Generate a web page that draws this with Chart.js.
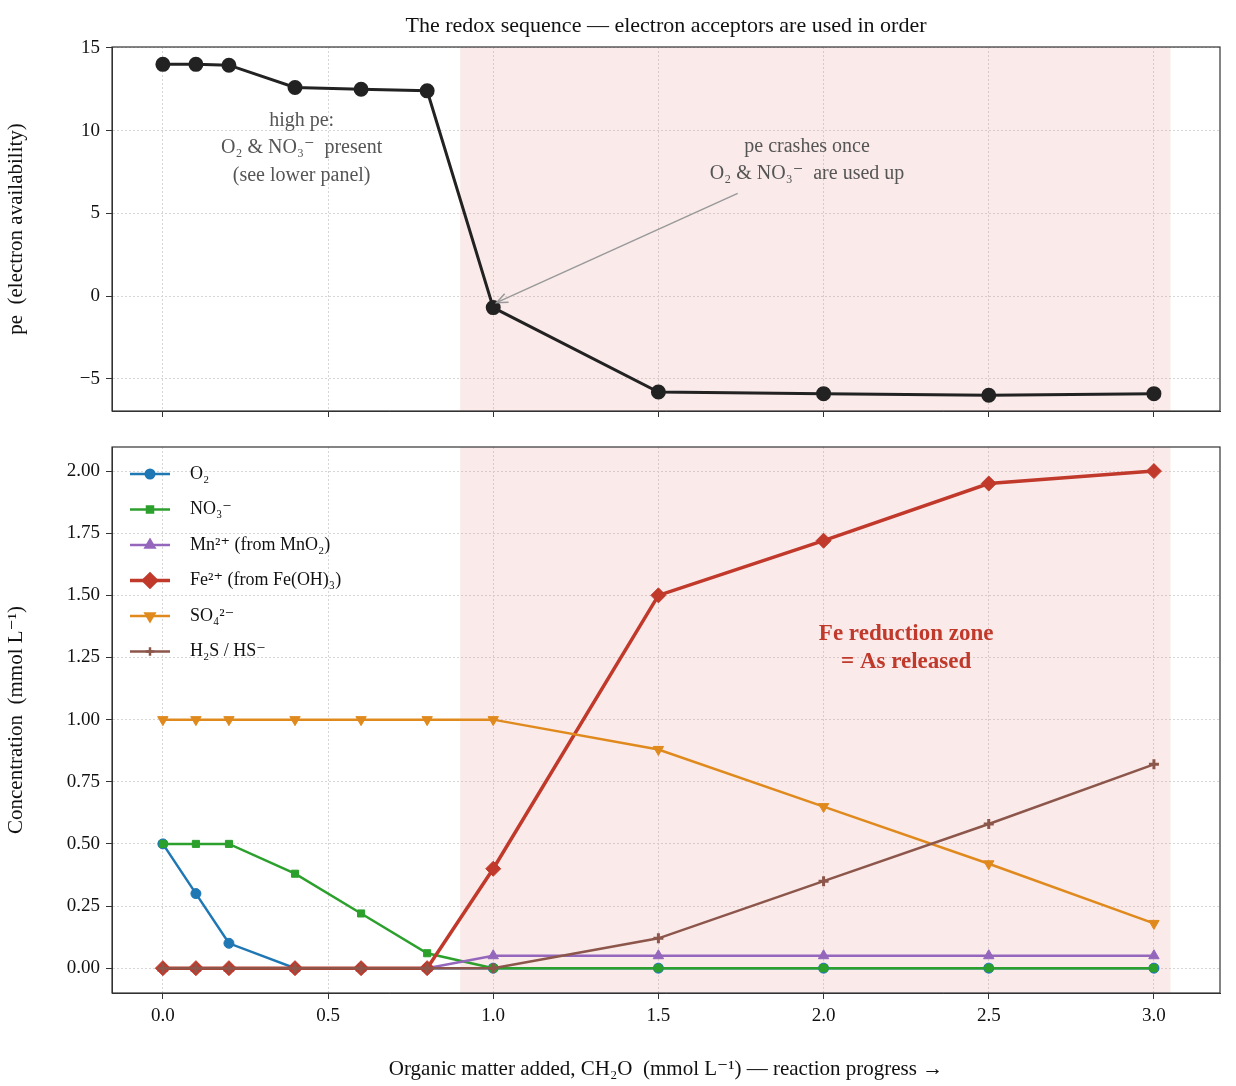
<!DOCTYPE html>
<html>
<head>
<meta charset="utf-8">
<script src="https://cdn.jsdelivr.net/npm/chart.js@4"></script>
<style>
  body { margin: 0; background: #fff; }
  .box { position: absolute; left: 0; width: 1236px; }
</style>
</head>
<body>
<div class="box" style="top:0;height:440px"><canvas id="peChart" width="1236" height="440"></canvas></div>
<div class="box" style="top:420px;height:666px"><canvas id="concChart" width="1236" height="666"></canvas></div>
<script>
const progress = [0, 0.1, 0.2, 0.4, 0.6, 0.8, 1.0, 1.5, 2.0, 2.5, 3.0];
const pe = [14.0, 14.0, 13.95, 12.6, 12.5, 12.4, -0.7, -5.8, -5.9, -6.0, -5.9];
const o2 = [0.5, 0.3, 0.1, 0, 0, 0, 0, 0, 0, 0, 0];
const no3 = [0.5, 0.5, 0.5, 0.38, 0.22, 0.06, 0, 0, 0, 0, 0];
const mn = [0, 0, 0, 0, 0, 0, 0.05, 0.05, 0.05, 0.05, 0.05];
const fe = [0, 0, 0, 0, 0, 0, 0.4, 1.5, 1.72, 1.95, 2.0];
const so4 = [1, 1, 1, 1, 1, 1, 1, 0.88, 0.65, 0.42, 0.18];
const h2s = [0, 0, 0, 0, 0, 0, 0, 0.12, 0.35, 0.58, 0.82];
const xTicks = [0, 0.5, 1.0, 1.5, 2.0, 2.5, 3.0];
const peTicks = [-5, 0, 5, 10, 15];
const concTicks = [0, 0.25, 0.5, 0.75, 1.0, 1.25, 1.5, 1.75, 2.0];
const zone = [0.9, 3.05];

const FONT = "'Liberation Serif', 'DejaVu Serif', serif";
Chart.defaults.font.family = FONT;
Chart.defaults.color = "#111";

const pts = arr => arr.map((v, i) => ({ x: progress[i], y: v }));

function xScale(showLabels, title) {
  return {
    type: "linear", min: -0.154, max: 3.2,
    afterBuildTicks: s => { s.ticks = xTicks.map(v => ({ value: v })); },
    ticks: { display: showLabels, font: { size: 19 }, padding: 6,
      callback: v => v.toFixed(1) },
    grid: { color: "#d6d6d6", tickColor: "#333", tickLength: 6 },
    border: { display: true, color: "#333", dash: [2, 2] },
    title: title ? { display: true, text: title, font: { size: 21 }, padding: { top: 2 } } : { display: false },
    afterFit: s => { s.height = showLabels ? 93 : 29; }
  };
}

function yScale(min, max, list, fmt, title) {
  return {
    min: min, max: max,
    afterBuildTicks: s => { s.ticks = list.map(v => ({ value: v })); },
    ticks: { font: { size: 19 }, padding: 6, callback: fmt },
    grid: { color: "#d6d6d6", tickColor: "#333", tickLength: 6 },
    border: { display: true, color: "#333", dash: [2, 2] },
    title: { display: true, text: title, font: { size: 21 }, padding: { bottom: 4 } },
    afterFit: s => { s.width = 112; }
  };
}

// shaded zone behind data, frame and text on top
const framePlugin = {
  id: "frame",
  beforeDatasetsDraw(chart) {
    const { ctx, chartArea: a, scales: { x } } = chart;
    ctx.save();
    ctx.fillStyle = "rgba(230, 150, 150, 0.2)";
    ctx.fillRect(x.getPixelForValue(zone[0]), a.top, x.getPixelForValue(zone[1]) - x.getPixelForValue(zone[0]), a.bottom - a.top);
    ctx.restore();
  },
  afterDraw(chart) {
    const { ctx, chartArea: a } = chart;
    const opts = chart.options.plugins.frame;
    ctx.save();
    ctx.strokeStyle = "#333";
    ctx.lineWidth = 1.2;
    ctx.strokeRect(a.left, a.top, a.right - a.left, a.bottom - a.top);
    const { x, y } = chart.scales;
    (opts.notes || []).forEach(n => {
      ctx.fillStyle = n.color;
      ctx.font = (n.bold ? "bold " : "") + n.size + "px " + FONT;
      ctx.textAlign = "center";
      ctx.textBaseline = "middle";
      n.lines.forEach((t, i) => ctx.fillText(t, x.getPixelForValue(n.x), y.getPixelForValue(n.y) + i * n.gap));
    });
    const arr = opts.arrow;
    if (arr) {
      const x1 = x.getPixelForValue(arr[0]), y1 = y.getPixelForValue(arr[1]);
      const x2 = x.getPixelForValue(arr[2]), y2 = y.getPixelForValue(arr[3]);
      ctx.strokeStyle = "#999";
      ctx.lineWidth = 1.5;
      ctx.beginPath(); ctx.moveTo(x1, y1); ctx.lineTo(x2, y2); ctx.stroke();
      const ang = Math.atan2(y2 - y1, x2 - x1);
      ctx.beginPath();
      ctx.moveTo(x2 - 12 * Math.cos(ang - 0.4), y2 - 12 * Math.sin(ang - 0.4));
      ctx.lineTo(x2, y2);
      ctx.lineTo(x2 - 12 * Math.cos(ang + 0.4), y2 - 12 * Math.sin(ang + 0.4));
      ctx.stroke();
    }
    if (opts.title) {
      ctx.fillStyle = "#111";
      ctx.font = "22px " + FONT;
      ctx.textAlign = "center";
      ctx.textBaseline = "middle";
      ctx.fillText(opts.title, (a.left + a.right) / 2, 26);
    }
    if (opts.legend) {
      ctx.textAlign = "left";
      ctx.textBaseline = "middle";
      ctx.font = "18px " + FONT;
      chart.data.datasets.forEach((ds, i) => {
        const ly = a.top + 27 + i * 35.5, lx = a.left + 18;
        ctx.strokeStyle = ds.borderColor;
        ctx.lineWidth = ds.borderWidth;
        ctx.beginPath(); ctx.moveTo(lx, ly); ctx.lineTo(lx + 40, ly); ctx.stroke();
        Chart.helpers.drawPoint(ctx, {
          pointStyle: ds.pointStyle, radius: ds.pointRadius * 0.85, rotation: ds.pointRotation || 0,
          borderWidth: ds.pointStyle === "cross" ? 3 : 1
        }, lx + 20, ly);
        ctx.fillStyle = ds.borderColor;
        ctx.fill();
        ctx.fillStyle = "#111";
        ctx.fillText(ds.label, lx + 60, ly);
      });
    }
    ctx.restore();
  }
};

new Chart(document.getElementById("peChart"), {
  type: "line",
  data: { datasets: [{
    label: "pe", data: pts(pe), borderColor: "#222", backgroundColor: "#222",
    borderWidth: 3, pointRadius: 6, pointStyle: "circle", tension: 0
  }] },
  options: {
    responsive: false, animation: false,
    layout: { padding: { top: 47, right: 16, left: 0, bottom: 0 } },
    scales: {
      x: xScale(false),
      y: yScale(-6.95, 15.05, peTicks, v => String(v).replace("-", "\u2212"), "pe  (electron availability)")
    },
    plugins: {
      legend: { display: false }, tooltip: { enabled: false },
      frame: {
        title: "The redox sequence \u2014 electron acceptors are used in order",
        notes: [
          { x: 0.42, y: 10.6, lines: ["high pe:", "O\u2082 & NO\u2083\u207b  present", "(see lower panel)"], gap: 27.5, size: 20, color: "#555" },
          { x: 1.95, y: 9.05, lines: ["pe crashes once", "O\u2082 & NO\u2083\u207b  are used up"], gap: 27.5, size: 20, color: "#555" }
        ],
        arrow: [1.74, 6.2, 1.01, -0.4]
      }
    }
  },
  plugins: [framePlugin]
});

function series(label, arr, color, style, radius, width, order, rot) {
  return { label: label, data: pts(arr), borderColor: color, backgroundColor: color,
    borderWidth: width, pointRadius: radius, pointStyle: style, pointRotation: rot || 0,
    pointBorderWidth: style === "cross" ? 3 : 1, tension: 0, order: order };
}

new Chart(document.getElementById("concChart"), {
  type: "line",
  data: { datasets: [
    series("O\u2082", o2, "#1f77b4", "circle", 5, 2.5, 6),
    series("NO\u2083\u207b", no3, "#2ca02c", "rect", 5, 2.5, 5),
    series("Mn\u00b2\u207a (from MnO\u2082)", mn, "#9467bd", "triangle", 6, 2.5, 4),
    series("Fe\u00b2\u207a (from Fe(OH)\u2083)", fe, "#c0392b", "rectRot", 7.5, 3.5, 3),
    series("SO\u2084\u00b2\u207b", so4, "#e08a1e", "triangle", 6, 2.5, 2, 180),
    series("H\u2082S / HS\u207b", h2s, "#8c564b", "cross", 5, 2.5, 1)
  ] },
  options: {
    responsive: false, animation: false,
    layout: { padding: { top: 27, right: 16, left: 0, bottom: 0 } },
    scales: {
      x: xScale(true, "Organic matter added, CH\u2082O  (mmol L\u207b\u00b9) \u2014 reaction progress \u2192"),
      y: yScale(-0.1, 2.097, concTicks, v => v.toFixed(2), "Concentration  (mmol L\u207b\u00b9)")
    },
    plugins: {
      legend: { display: false }, tooltip: { enabled: false },
      frame: {
        legend: true,
        notes: [
          { x: 2.25, y: 1.345, lines: ["Fe reduction zone", "= As released"], gap: 28, size: 23, bold: true, color: "#c0392b" }
        ]
      }
    }
  },
  plugins: [framePlugin]
});
</script>
</body>
</html>
